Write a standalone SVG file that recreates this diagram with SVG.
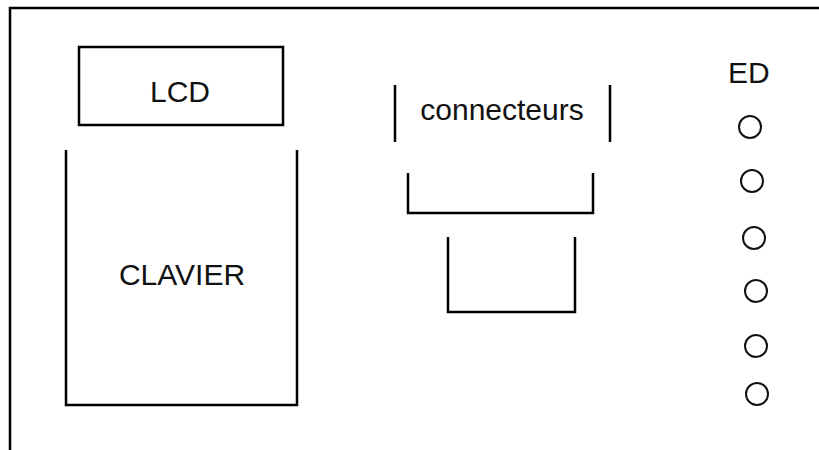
<svg xmlns="http://www.w3.org/2000/svg" width="819" height="450" viewBox="0 0 819 450">
<style>
.ln{fill:none;stroke:#000;stroke-width:2.5}
.t{font-family:"Liberation Sans",Arial,sans-serif;font-size:30px;fill:#111}
.led{fill:none;stroke:#111;stroke-width:2}
</style>
<rect width="819" height="450" fill="#fff"/>
<g id="frame"><path class="ln" d="M10,450 V8 H819" stroke-width="3"/></g>
<g id="lcd"><rect class="ln" x="79" y="47" width="204" height="78"/><text class="t" x="180" y="102" text-anchor="middle">LCD</text></g>
<g id="clavier"><path class="ln" d="M66,150 V405 H297 V150"/><text class="t" x="182" y="285" text-anchor="middle">CLAVIER</text></g>
<g id="connecteurs"><path class="ln" d="M395,85 V142 M610,85 V142"/><text class="t" x="502" y="120" text-anchor="middle">connecteurs</text></g>
<g id="connecteur1"><path class="ln" d="M408,173 V213 H593 V173"/></g>
<g id="connecteur2"><path class="ln" d="M448,237 V312 H575 V237"/></g>
<g id="leds">
<text class="t" x="728" y="83">ED</text>
<circle class="led" cx="750" cy="127" r="11"/>
<circle class="led" cx="752" cy="181" r="11"/>
<circle class="led" cx="754" cy="238" r="11"/>
<circle class="led" cx="756" cy="291" r="11"/>
<circle class="led" cx="756" cy="346" r="11"/>
<circle class="led" cx="757" cy="394" r="11"/>
</g>
<g id="connectors"></g>
</svg>
